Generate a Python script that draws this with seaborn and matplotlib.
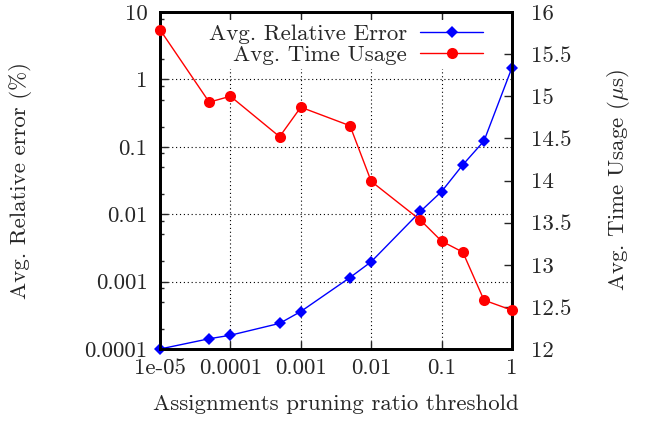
import numpy as np
import pandas as pd
import matplotlib
matplotlib.use("Agg")
import matplotlib.pyplot as plt
import matplotlib.ticker as mticker
import seaborn as sns

# pruning ratio thresholds
thresholds = [1e-5, 5e-5, 1e-4, 5e-4, 1e-3, 5e-3, 1e-2, 5e-2, 1e-1, 2e-1, 4e-1, 1.0]
# avg. relative error (%)
rel_error = [0.0001, 0.000142, 0.00016, 0.00024, 0.00036, 0.00115,
             0.00197, 0.011, 0.0217, 0.054, 0.122, 1.5]
# avg. time usage (us)
time_usage = [15.79, 14.93, 15.00, 14.52, 14.87, 14.65,
              13.99, 13.53, 13.28, 13.15, 12.58, 12.46]

x_tick_vals = [1e-5, 1e-4, 1e-3, 1e-2, 1e-1, 1]
x_tick_labels = ["1e-05", "0.0001", "0.001", "0.01", "0.1", "1"]
y_tick_vals = [1e-4, 1e-3, 1e-2, 1e-1, 1, 10]
y_tick_labels = ["0.0001", "0.001", "0.01", "0.1", "1", "10"]
y2_tick_vals = [12, 12.5, 13, 13.5, 14, 14.5, 15, 15.5, 16]
y2_tick_labels = ["12", "12.5", "13", "13.5", "14", "14.5", "15", "15.5", "16"]

df = pd.DataFrame({"threshold": thresholds,
                   "error": rel_error,
                   "time": time_usage})

sns.set_style("ticks")
plt.rcParams["font.family"] = ["cmr10", "DejaVu Serif"]
plt.rcParams["mathtext.fontset"] = "cm"
plt.rcParams["axes.unicode_minus"] = False

FS = 16.5

fig = plt.figure(figsize=(6.45, 4.24), dpi=100)
ax = fig.add_axes([160 / 645, 1 - 349 / 424, 352 / 645, 337 / 424])
ax2 = ax.twinx()

sns.lineplot(data=df, x="threshold", y="error", ax=ax, color="#0000ff",
             marker="D", markersize=6.5, markeredgewidth=0, linewidth=1.0,
             label="Avg. Relative Error", legend=False, clip_on=False,
             zorder=3)
sns.lineplot(data=df, x="threshold", y="time", ax=ax2, color="#ff0000",
             marker="o", markersize=8, markeredgewidth=0, linewidth=1.0,
             label="Avg. Time Usage", legend=False, clip_on=False,
             zorder=3)

ax.set_xscale("log")
ax.set_yscale("log")
ax.set_xlim(1e-5, 1)
ax.set_ylim(1e-4, 10)
ax2.set_ylim(12, 16)

ax.set_xticks(x_tick_vals)
ax.set_xticklabels(x_tick_labels)
ax.set_yticks(y_tick_vals)
ax.set_yticklabels(y_tick_labels)
ax.xaxis.set_minor_locator(mticker.LogLocator(base=10, subs=(2, 5, 8)))
ax.yaxis.set_minor_locator(mticker.LogLocator(base=10, subs=(2, 5, 8)))
ax.xaxis.set_minor_formatter(mticker.NullFormatter())
ax.yaxis.set_minor_formatter(mticker.NullFormatter())
ax2.set_yticks(y2_tick_vals)
ax2.set_yticklabels(y2_tick_labels)

ax.tick_params(axis="x", which="both", direction="in", top=True,
               labelsize=FS, pad=7, width=1)
ax.tick_params(axis="y", which="both", direction="in", right=False,
               labelsize=FS, pad=9, width=1)
ax.tick_params(which="major", length=6)
ax.tick_params(which="minor", length=3)
ax2.tick_params(axis="y", direction="in", labelsize=FS, pad=14,
                length=6, width=1)

ax.grid(True, which="major", color="black", linestyle=(0, (1, 2.5)),
        linewidth=0.8)

for a in (ax, ax2):
    for s in a.spines.values():
        s.set_linewidth(2.0)
        s.set_color("black")

ax.set_xlabel("Assignments pruning ratio threshold", fontsize=FS)
ax.set_ylabel("Avg. Relative error (%)", fontsize=FS)
ax2.set_ylabel(r"Avg. Time Usage ($\mu$s)", fontsize=FS)
ax.xaxis.set_label_coords(0.5, -0.135)
ax.yaxis.set_label_coords(-0.365, 0.5)
ax2.yaxis.set_label_coords(1.265, 0.5)

h1, l1 = ax.get_legend_handles_labels()
h2, l2 = ax2.get_legend_handles_labels()
leg = ax2.legend(h1 + h2, l1 + l2, loc="upper right",
                 bbox_to_anchor=(0.96, 1.01), markerfirst=False,
                 fontsize=FS, handlelength=2.75, handletextpad=0.57,
                 labelspacing=0.07, borderpad=0.15, frameon=True,
                 fancybox=False, framealpha=1.0)
leg.get_frame().set_facecolor("white")
leg.get_frame().set_edgecolor("none")
leg.set_zorder(10)

fig.savefig("out.png", dpi=100)
